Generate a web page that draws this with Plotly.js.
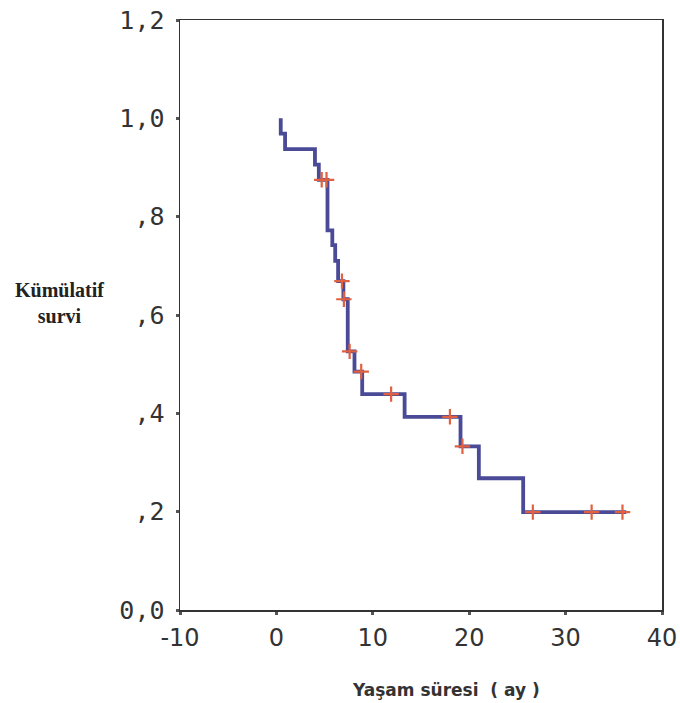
<!DOCTYPE html>
<html>
<head>
<meta charset="utf-8">
<script src="https://cdn.plot.ly/plotly-3.0.1.min.js"></script>
<style>html,body{margin:0;padding:0;background:#fff;}#chart{width:680px;height:703px;}</style>
</head>
<body>
<div id="chart"></div>
<script>
// Kaplan-Meier curve
const startTime = 0.45;
const startSurvival = 1.0;
const eventTimes = [0.45, 0.9, 4.0, 4.4, 5.3, 5.8, 6.1, 6.4, 6.95, 7.4, 8.1, 8.9, 13.3, 19.1, 21.0, 25.6];
const survival   = [0.969, 0.9375, 0.906, 0.875, 0.772, 0.742, 0.71, 0.669, 0.632, 0.526, 0.485, 0.439, 0.393, 0.333, 0.268, 0.199];
const endTime = 36.3;
const censorTimes = [4.7, 5.2, 6.8, 7.0, 7.6, 8.8, 11.9, 18.0, 19.3, 26.6, 32.7, 35.9];
const censorSurvival = [0.875, 0.875, 0.669, 0.632, 0.526, 0.485, 0.439, 0.393, 0.333, 0.199, 0.199, 0.199];
const yTickVals = [0, 0.2, 0.4, 0.6, 0.8, 1.0, 1.2];
const yTickText = ['0,0', ',2', ',4', ',6', ',8', '1,0', '1,2'];
const xTickVals = [-10, 0, 10, 20, 30, 40];
const xTickText = ['-10', '0', '10', '20', '30', '40'];

const stepX = [startTime].concat(eventTimes, [endTime]);
const stepY = [startSurvival].concat(survival, [survival[survival.length - 1]]);

const traces = [
  {
    x: stepX, y: stepY, type: 'scatter', mode: 'lines',
    line: {shape: 'hv', color: '#4a4a96', width: 3.8},
    hoverinfo: 'skip', showlegend: false
  },
  {
    x: censorTimes, y: censorSurvival, type: 'scatter', mode: 'markers',
    marker: {symbol: 'cross-thin', size: 11, line: {color: '#e0603f', width: 2.2}},
    hoverinfo: 'skip', showlegend: false
  }
];

const layout = {
  width: 680, height: 703,
  margin: {l: 180, r: 18, t: 20, b: 93},
  paper_bgcolor: '#ffffff', plot_bgcolor: '#ffffff',
  showlegend: false,
  xaxis: {
    range: [-10, 40], tickvals: xTickVals, ticktext: xTickText,
    showgrid: false, zeroline: false,
    showline: true, linecolor: '#333', linewidth: 1.5, mirror: true,
    ticks: 'outside', ticklen: 3, tickwidth: 3, tickcolor: '#555',
    ticklabelstandoff: 3,
    tickfont: {family: 'DejaVu Sans', size: 24, color: '#333'}
  },
  yaxis: {
    range: [0, 1.2], tickvals: yTickVals, ticktext: yTickText,
    showgrid: false, zeroline: false,
    showline: true, linecolor: '#333', linewidth: 1.5, mirror: true,
    ticks: 'outside', ticklen: 3, tickwidth: 3, tickcolor: '#555',
    ticklabelstandoff: 6,
    tickfont: {family: 'DejaVu Sans Mono', size: 25, color: '#333'}
  },
  annotations: [
    {text: '<b>Yaşam süresi  ( ay )</b>', xref: 'paper', yref: 'paper', x: 0.552, y: -0.135,
     xanchor: 'center', yanchor: 'middle', showarrow: false,
     font: {family: 'DejaVu Sans', size: 17, color: '#333'}},
    {text: '<b>Kümülatif</b><br><b>survi</b>', xref: 'paper', yref: 'paper', x: -0.25, y: 0.52,
     xanchor: 'center', yanchor: 'middle', showarrow: false, align: 'center',
     font: {family: 'Liberation Serif', size: 20, color: '#222'}}
  ]
};

Plotly.newPlot('chart', traces, layout, {staticPlot: true, displayModeBar: false});
</script>
</body>
</html>
